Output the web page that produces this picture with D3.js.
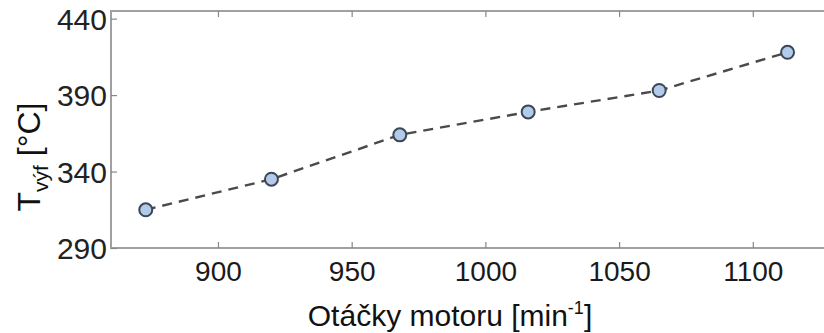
<!DOCTYPE html>
<html><head><meta charset="utf-8">
<script src="https://cdn.jsdelivr.net/npm/d3@7"></script>
<style>
html,body{margin:0;padding:0;background:#fff;}
svg{display:block;font-family:"Liberation Sans",Arial,Helvetica,sans-serif;}
</style></head>
<body>
<svg id="chart" width="824" height="333"></svg>
<script>
const rpm = [873, 920, 968, 1016, 1065, 1113];
const temp = [315, 335, 364, 379, 393, 418];
const xTicks = [900, 950, 1000, 1050, 1100];
const yTicks = [290, 340, 390, 440];
const xDomain = [860, 1127];
const yDomain = [290, 445];

const svg = d3.select("#chart");
const L = 111, R = 825, T = 11, B = 248;
const x = d3.scaleLinear().domain(xDomain).range([L, R]);
const y = d3.scaleLinear().domain(yDomain).range([B, T]);
const frame = "#a0a0a0";

// frame
svg.append("rect").attr("x", L).attr("y", T).attr("width", R - L).attr("height", B - T)
  .attr("fill", "none").attr("stroke", frame).attr("stroke-width", 2);

// axes with inward ticks
const xb = svg.append("g").attr("transform", `translate(0,${B})`)
  .call(d3.axisBottom(x).tickValues(xTicks).tickSize(-6).tickPadding(13).tickFormat(d3.format("d")));
const xt = svg.append("g").attr("transform", `translate(0,${T})`)
  .call(d3.axisTop(x).tickValues(xTicks).tickSize(-6).tickFormat(""));
const yl = svg.append("g").attr("transform", `translate(${L},0)`)
  .call(d3.axisLeft(y).tickValues(yTicks).tickSize(-6).tickPadding(4).tickFormat(d3.format("d")));
[xb, xt, yl].forEach(g => {
  g.select(".domain").remove();
  g.selectAll(".tick line").attr("stroke", "#888").attr("stroke-width", 1.2);
  g.selectAll(".tick text").attr("fill", "#1a1a1a").attr("font-size", 28)
    .attr("font-family", "'Liberation Sans', Arial, sans-serif");
});
yl.selectAll(".tick text").attr("font-size", 30).attr("dy", "0.36em").attr("fill", "#222");

// line
const line = d3.line().x((d, i) => x(rpm[i])).y(d => y(d));
svg.append("path").datum(temp).attr("d", line).attr("fill", "none")
  .attr("stroke", "#4a4a4a").attr("stroke-width", 2.4).attr("stroke-dasharray", "10,7");

// markers
svg.selectAll("circle.pt").data(temp).enter().append("circle").attr("class", "pt")
  .attr("cx", (d, i) => x(rpm[i])).attr("cy", d => y(d)).attr("r", 6.5)
  .attr("fill", "#b3cbea").attr("stroke", "#3c4654").attr("stroke-width", 2);

// x title
const xtitle = svg.append("text").attr("x", 450).attr("y", 326).attr("text-anchor", "middle")
  .attr("font-size", 30).attr("fill", "#111");
xtitle.append("tspan").text("Otáčky motoru [min");
xtitle.append("tspan").attr("font-size", 18).attr("dy", -12).text("-1");
xtitle.append("tspan").attr("dy", 12).text("]");

// y title
const ytitle = svg.append("text").attr("transform", "translate(40,157) rotate(-90)")
  .attr("text-anchor", "middle").attr("font-size", 32).attr("fill", "#111");
ytitle.append("tspan").text("T");
ytitle.append("tspan").attr("font-size", 21).attr("dy", 8).text("výf");
ytitle.append("tspan").attr("dy", -8).text(" [°C]");
</script>
</body></html>
